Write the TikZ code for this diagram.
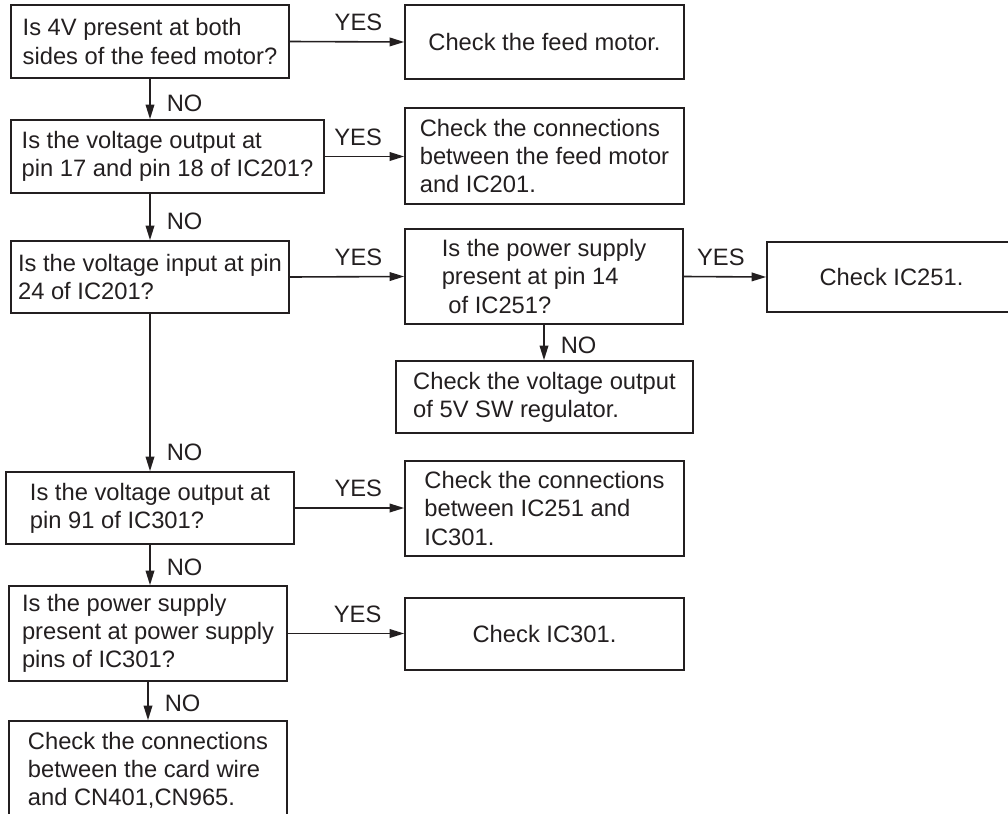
\documentclass[tikz,border=0pt]{standalone}
\usepackage{fontspec}
\setmainfont{Liberation Sans}
\usetikzlibrary{arrows.meta,positioning}
\definecolor{inkgray}{RGB}{35,31,32}
\newcommand{\chartfont}{\fontsize{17.8pt}{21.2pt}\selectfont}
\tikzset{
  wire/.style={draw=inkgray, line width=1.2pt},
  flow/.style={wire, -{Triangle[length=11pt,width=6.5pt]}},
  ask/.style={draw=inkgray, line width=1.2pt, align=left, text=inkgray,
              inner sep=0pt, font=\chartfont},
  act/.style={ask},
  yes/.style={above=7.5pt, inner sep=0pt, text=inkgray, font=\chartfont},
  no/.style={right=12pt, inner sep=0pt, text=inkgray, font=\chartfont},
}

\begin{document}
\begin{tikzpicture}[x=0.75pt,y=-0.75pt]
  \path[use as bounding box] (0,0) rectangle (1008,814);
  \clip (0,0) rectangle (1008,814);

  % Left column: the questions.
  \node[ask, minimum width=208.5pt, minimum height=54.75pt] (q1) at (150,41.5)
    {Is 4V present at both\\sides of the feed motor?};
  \node[ask, minimum width=234.75pt, minimum height=54.75pt] (q2) at (167.5,156.5)
    {Is the voltage output at\\pin 17 and pin 18 of IC201?};
  \node[ask, minimum width=208.5pt, minimum height=54pt] (q3) at (150,277)
    {Is the voltage input at pin\\24 of IC201?};
  \node[ask, minimum width=216pt, minimum height=54pt] (q4) at (150,508)
    {Is the voltage output at\\pin 91 of IC301?};
  \node[ask, minimum width=208.5pt, minimum height=71.25pt] (q5) at (148,633.5)
    {Is the power supply\\present at power supply\\pins of IC301?};
  \node[act, minimum width=208.5pt, minimum height=74.25pt] (cardwire) at (148,770.5)
    {Check the connections\\between the card wire\\and CN401,CN965.};

  % Middle column: the checks and the IC251 question.
  \node[act, minimum width=209.25pt, minimum height=55.5pt] (feedmotor) at (544.5,42)
    {Check the feed motor.};
  \node[act, minimum width=209.25pt, minimum height=72pt] (feedconn) at (544.5,156)
    {Check the connections\\between the feed motor\\and IC201.};
  \node[ask, minimum width=208.5pt, minimum height=71.25pt] (q251) at (544,276.5)
    {Is the power supply\\present at pin 14\\\hspace*{0.28em}of IC251?};
  \node[act, minimum width=222.75pt, minimum height=54pt] (regulator) at (544.5,397)
    {Check the voltage output\\of 5V SW regulator.};
  \node[act, minimum width=209.25pt, minimum height=71.25pt] (icconn) at (544.5,508.5)
    {Check the connections\\between IC251 and\\IC301.};
  \node[act, minimum width=209.25pt, minimum height=54pt] (ic301) at (544.5,634)
    {Check IC301.};

  % Right column.
  \node[act, minimum width=186.75pt, minimum height=52.5pt] (ic251) at (891.5,277)
    {Check IC251.};

  % YES branches.
  \draw[flow] (q1.east) -- node[yes, pos=0.6] {YES} (feedmotor.west);
  \draw[flow] (q2.east) -- node[yes, pos=0.42] {YES} (q2.east -| feedconn.west);
  \draw[flow] (q3.east) -- node[yes, pos=0.6] {YES} (q251.west);
  \draw[flow] (q251.east) -- node[yes, pos=0.45] {YES} (ic251.west);
  \draw[flow] (q4.east) -- node[yes, pos=0.58] {YES} (q4.east -| icconn.west);
  \draw[flow] (q5.east) -- node[yes, pos=0.6] {YES} (q5.east -| ic301.west);

  % NO branches.
  \draw[flow] (q1.south) -- node[no, pos=0.6] {NO} (q1.south |- q2.north);
  \draw[flow] (q1.south |- q2.south) -- node[no, pos=0.6] {NO} (q3.north);
  \draw[flow] (q3.south) -- node[no, pos=0.88] {NO} (q4.north);
  \draw[flow] (q4.south) -- node[no, pos=0.55] {NO} (q4.south |- q5.north);
  \draw[flow] (q5.south) -- node[no, pos=0.56] {NO} (cardwire.north);
  \draw[flow] (q251.south) -- node[no, pos=0.57] {NO} (q251.south |- regulator.north);
\end{tikzpicture}
\end{document}
